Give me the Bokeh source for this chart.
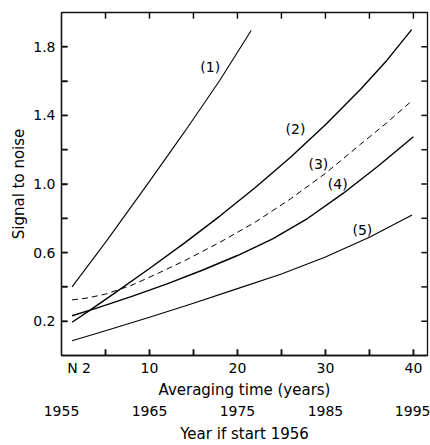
from bokeh.plotting import figure
from bokeh.models import FixedTicker, LinearAxis, Range1d, NumeralTickFormatter
from bokeh.core.properties import value
from bokeh.embed import file_html
from bokeh.resources import INLINE

# ---- data ----
c1_x = [1.2, 5.0, 10.0, 14.0, 18.0, 21.56]
c1_y = [0.40, 0.66, 1.015, 1.305, 1.605, 1.895]

c2_x = [1.2, 3.0, 6.0, 10.0, 14.0, 18.0, 22.0, 26.0, 30.0, 34.0, 37.0, 39.8]
c2_y = [0.194, 0.256, 0.362, 0.507, 0.657, 0.813, 0.978, 1.155, 1.346, 1.553, 1.722, 1.90]

c3_x = [1.2, 3.0, 5.0, 8.0, 11.0, 14.0, 18.0, 22.0, 26.0, 30.0, 34.0, 37.0, 39.85]
c3_y = [0.324, 0.336, 0.358, 0.410, 0.480, 0.553, 0.660, 0.777, 0.912, 1.062, 1.232, 1.358, 1.486]

c4_x = [1.2, 4.0, 8.0, 12.0, 16.0, 20.0, 24.0, 28.0, 32.0, 36.0, 40.0]
c4_y = [0.232, 0.276, 0.345, 0.418, 0.497, 0.583, 0.680, 0.800, 0.945, 1.105, 1.276]

c5_x = [1.2, 5.0, 10.0, 15.0, 20.0, 25.0, 30.0, 35.0, 39.85]
c5_y = [0.086, 0.144, 0.223, 0.305, 0.390, 0.475, 0.574, 0.690, 0.819]

curve_labels = ["(1)", "(2)", "(3)", "(4)", "(5)"]
label_x = [16.9, 26.6, 29.2, 31.4, 34.2]
label_y = [1.68, 1.318, 1.114, 1.0, 0.73]

x_major_ticks = [2, 10, 20, 30, 40]
x_minor_ticks = [5, 10, 15, 20, 25, 30, 35, 40]
y_major_ticks = [0.2, 0.6, 1.0, 1.4, 1.8]
y_minor_ticks = [0.2, 0.4, 0.6, 0.8, 1.0, 1.2, 1.4, 1.6, 1.8]
year_ticks = [1955, 1965, 1975, 1985, 1995]
start_year = 1955

X_MAX = 41.6
Y_MAX = 2.0
FONT = "DejaVu Sans"
INK = "#111111"
EPS_X, EPS_Y = 0.03, 0.002     # start ticks just inside the frame edge
TICK_DX, TICK_DY = 0.7, 0.036  # ~6 px tick length

p = figure(width=430, height=445, x_range=(0, X_MAX), y_range=(0, Y_MAX),
           output_backend="svg", toolbar_location=None,
           min_border_left=61, min_border_right=3, min_border_top=12, min_border_bottom=0)
p.grid.visible = False
p.outline_line_color = INK
p.outline_line_width = 1.3
p.background_fill_color = "white"
p.border_fill_color = "white"

def style_axis(ax, tick_in):
    ax.axis_label_text_font_style = "normal"
    ax.axis_label_text_font = FONT
    ax.axis_label_text_font_size = "15px"
    ax.major_label_text_font = FONT
    ax.major_label_text_font_size = "14px"
    ax.major_label_text_color = "black"
    ax.axis_label_text_color = "black"
    ax.major_tick_in = 0
    ax.major_tick_out = 0
    ax.minor_tick_in = tick_in
    ax.minor_tick_out = 0
    ax.minor_tick_line_color = INK
    ax.minor_tick_line_width = 1.5
    ax.axis_line_color = INK
    ax.axis_line_width = 1.3

# bottom axis (averaging time): labels as majors, tick marks as minors
xa = p.xaxis[0]
xa.ticker = FixedTicker(ticks=x_major_ticks, minor_ticks=x_minor_ticks)
xa.major_label_overrides = {2: "N 2"}
xa.axis_label = "Averaging time (years)"
style_axis(xa, 6)
xa.major_label_standoff = 4
xa.axis_label_standoff = 2

# left axis
ya = p.yaxis[0]
ya.ticker = FixedTicker(ticks=y_major_ticks, minor_ticks=y_minor_ticks)
ya.formatter = NumeralTickFormatter(format="0.0")
ya.axis_label = "Signal to noise"
style_axis(ya, 6)
ya.major_label_standoff = 6
ya.axis_label_standoff = 2

# year axis
p.extra_x_ranges = {"year": Range1d(start_year, start_year + X_MAX)}
yr = LinearAxis(x_range_name="year", ticker=FixedTicker(ticks=year_ticks))
style_axis(yr, 0)
yr.axis_label = "Year if start 1956"
yr.axis_line_color = None
yr.major_label_standoff = 4
yr.axis_label_standoff = 6
p.add_layout(yr, "below")

# inward tick marks on all four frame edges
n_x = len(x_minor_ticks)
n_y = len(y_minor_ticks)
p.segment(x0=x_minor_ticks * 2, x1=x_minor_ticks * 2,
          y0=[EPS_Y] * n_x + [Y_MAX - EPS_Y] * n_x,
          y1=[TICK_DY] * n_x + [Y_MAX - TICK_DY] * n_x,
          line_color=INK, line_width=1.5, level="overlay")
p.segment(x0=[EPS_X] * n_y + [X_MAX - EPS_X] * n_y,
          x1=[TICK_DX] * n_y + [X_MAX - TICK_DX] * n_y,
          y0=y_minor_ticks * 2, y1=y_minor_ticks * 2,
          line_color=INK, line_width=1.5, level="overlay")

# curves
p.line(c1_x, c1_y, line_color="black", line_width=1.1)
p.line(c2_x, c2_y, line_color="black", line_width=1.4)
p.line(c3_x, c3_y, line_color="black", line_width=1.0, line_dash="6 4")
p.line(c4_x, c4_y, line_color="black", line_width=1.4)
p.line(c5_x, c5_y, line_color="black", line_width=1.1)

p.text(x=label_x, y=label_y, text=curve_labels, text_font=value(FONT),
       text_font_size="14px", text_align="center", text_baseline="middle",
       text_color="black")

open("out.html", "w").write(file_html(p, INLINE))
